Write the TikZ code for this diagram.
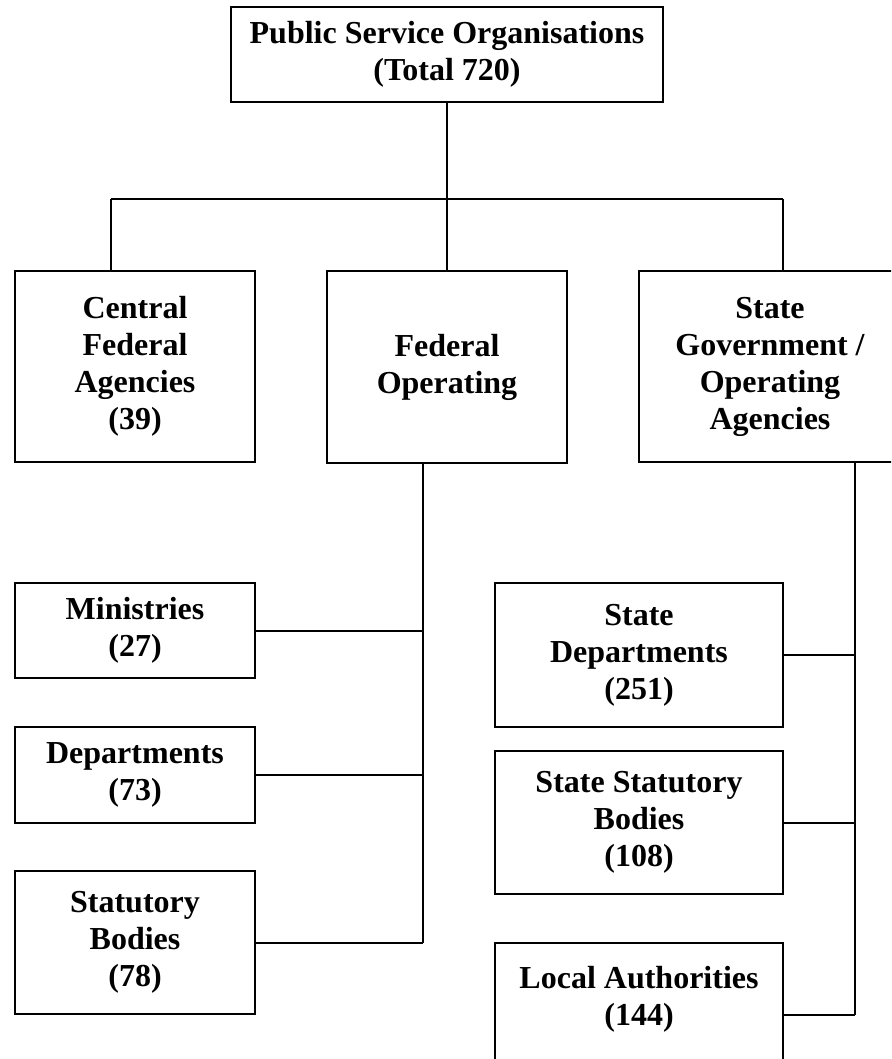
\documentclass[tikz,border=0pt]{standalone}
\usepackage{fontspec}
\setmainfont{Liberation Serif}
\begin{document}
\begin{tikzpicture}[x=1pt,y=-1pt]

  % Set up styles for the boxes and the connectors
  \tikzset{
      orgbox/.style={rectangle, draw, line width=2.6pt, inner sep=0pt, align=center,
                     font=\bfseries\fontsize{32}{37}\selectfont},
      link/.style={line width=2pt}
  }

  \useasboundingbox (0,0) rectangle (891,1059);
  \clip (0,0) rectangle (891,1059);

  % top level
  \node[orgbox, minimum width=432, minimum height=95] (pso) at (447, 54.5) {Public Service Organisations\\(Total 720)};

  % second row
  \node[orgbox, minimum width=240, minimum height=191] (central) at (135, 366.5) {Central\\Federal\\Agencies\\(39)};
  \node[orgbox, minimum width=240, minimum height=192] (fedop) at (447, 367) {Federal\\Operating};
  \node[orgbox, minimum width=262, minimum height=191] (stategov) at (770, 366.5) {State\\Government /\\Operating\\Agencies};

  % federal operating units
  \node[orgbox, minimum width=240, minimum height=95] (ministries) at (135, 630.5) {Ministries\\(27)};
  \node[orgbox, minimum width=240, minimum height=96] (depts) at (135, 775) {Departments\\(73)};
  \node[orgbox, minimum width=240, minimum height=143] (statutory) at (135, 942.5) {Statutory\\Bodies\\(78)};

  % state units
  \node[orgbox, minimum width=288, minimum height=144] (statedepts) at (639, 655) {State\\Departments\\(251)};
  \node[orgbox, minimum width=288, minimum height=143] (statestat) at (639, 822.5) {State Statutory\\Bodies\\(108)};
  \node[orgbox, minimum width=288, minimum height=143] (localauth) at (639, 1014.5) {Local Authorities\\(144)\\\mbox{}};

  % connector ends
  \coordinate (busL) at (111, 199);
  \coordinate (busR) at (783, 199);
  \coordinate (fedspine) at (423, 0);
  \coordinate (statespine) at (855, 0);

  % top tree
  \draw[link] (pso) -- (fedop);
  \draw[link] (busL) -- (busR);
  \draw[link] (busL) -- (busL |- central.north);
  \draw[link] (busR) -- (busR |- stategov.north);

  % federal spine and branches
  \draw[link] (fedspine |- fedop.south) -- (fedspine |- statutory.east);
  \foreach \n in {ministries, depts, statutory} {
      \draw[link] (\n.east) -- (\n.east -| fedspine);
  }

  % state spine and branches
  \draw[link] (statespine |- stategov.south) -- (statespine |- localauth.east);
  \foreach \n in {statedepts, statestat, localauth} {
      \draw[link] (\n.east) -- (\n.east -| statespine);
  }

\end{tikzpicture}
\end{document}
